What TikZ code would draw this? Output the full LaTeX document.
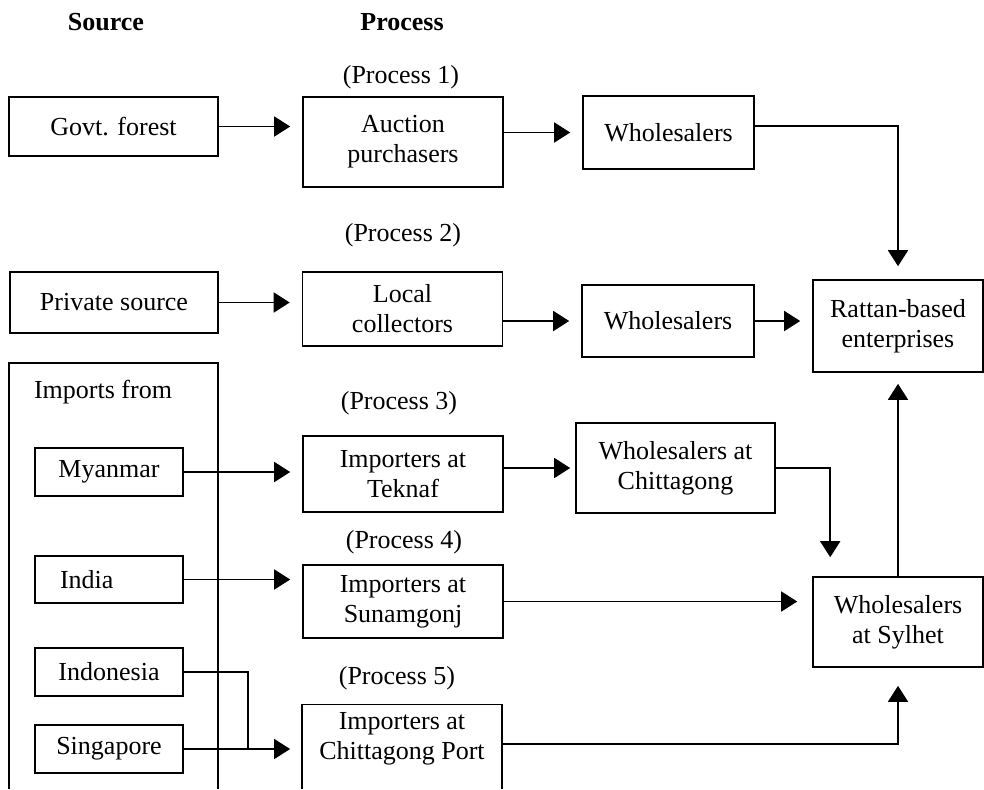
\documentclass[tikz,border=0pt]{standalone}
\usepackage{fontspec}
\setmainfont{Liberation Serif}
\usetikzlibrary{arrows.meta}
\begin{document}
\begin{tikzpicture}[x=.5pt,y=-.5pt,
	every node/.style={font=\fontsize{13}{15}\selectfont},
	box/.style={draw,line width=.8pt,align=center,inner sep=2pt},
	arr/.style={line width=.8pt,-{Triangle[length=8pt,width=10pt]},shorten >=6pt}]
				\useasboundingbox (0,0) rectangle (984,789);
				\node[font=\fontsize{13}{15}\selectfont\bfseries] (src) at (106,22) {Source};
				\node[font=\fontsize{13}{15}\selectfont\bfseries] (prc) at (402,22) {Process};
				\node (p1) at (401,77) {(Process 1)};
				\node (p2) at (403,235) {(Process 2)};
				\node (p3) at (399,403) {(Process 3)};
				\node (p4) at (404,542) {(Process 4)};
				\node (p5) at (397,678) {(Process 5)};
				\node[box,minimum width=104.5pt,minimum height=29.5pt] (govt) at (113.5,126.5) {Govt. forest};
				\node[box,minimum width=100pt,minimum height=45pt] (auction) at (403,142) {Auction\\purchasers};
				\node[box,minimum width=85.5pt,minimum height=36.5pt] (whole1) at (668.5,132.5) {Wholesalers};
				\node[box,minimum width=104pt,minimum height=30.5pt] (private) at (114,302.5) {Private source};
				\node[box,minimum width=100pt,minimum height=37pt] (local) at (402.5,309) {Local\\collectors};
				\node[box,minimum width=86pt,minimum height=36pt] (whole2) at (668,321) {Wholesalers};
				\node[box,minimum width=85pt,minimum height=46pt] (rattan) at (898,326) {Rattan-based\\enterprises};
				\draw[line width=.8pt] (9,789) -- (9,363) -- (218,363) -- (218,789);
				\node[anchor=west] (imp) at (27,392) {Imports from};
				\node[box,minimum width=74pt,minimum height=24pt] (myanmar) at (109,472) {Myanmar};
				\node[box,minimum width=74pt,minimum height=23.5pt,text width=49pt,align=left] (india) at (109,579.5) {India};
				\node[box,minimum width=74pt,minimum height=24pt] (indonesia) at (109,672) {Indonesia};
				\node[box,minimum width=74pt,minimum height=24pt] (singapore) at (109,749) {Singapore};
				\node[box,minimum width=100pt,minimum height=38pt] (teknaf) at (403,474) {Importers at\\Teknaf};
				\node[box,minimum width=100pt,minimum height=36.5pt] (sunamgonj) at (403,601.5) {Importers at\\Sunamgonj};
				\node[align=center,inner sep=2pt,minimum width=99.5pt,minimum height=34pt] (port) at (402,739) {Importers at\\Chittagong Port};
				\draw[line width=.8pt] ([yshift=-8pt]port.south west) -- (port.north west) -- (port.north east) -- ([yshift=-8pt]port.south east);
				\node[box,minimum width=99.5pt,minimum height=45pt] (whchitt) at (675.5,468) {Wholesalers at\\Chittagong};
				\node[box,minimum width=85pt,minimum height=45pt] (sylhet) at (898,622) {Wholesalers\\at Sylhet};
				\coordinate (jn) at (248,749);
				\draw[arr] (govt) -- (govt -| auction.west);
				\draw[arr] (whole1 -| auction.east) -- (whole1.west);
				\draw[arr,shorten >=6.5pt] ([yshift=3.25pt]whole1.east) -| (rattan.north);
				\draw[arr] (private) -- (private -| local.west);
				\draw[arr] (whole2 -| local.east) -- (whole2.west);
				\draw[arr] (whole2) -- (whole2 -| rattan.west);
				\draw[arr] (myanmar) -- (myanmar -| teknaf.west);
				\draw[arr] (india) -- (india -| sunamgonj.west);
				\draw[line width=.8pt] (indonesia) -| (jn);
				\draw[arr] (singapore) -- (singapore -| port.west);
				\draw[arr,shorten >=2.5pt] (whchitt -| teknaf.east) -- (whchitt.west);
				\draw[arr,shorten >=9.5pt] (whchitt.east) -| ([xshift=9pt]sylhet.north west);
				\draw[arr,shorten >=7.5pt] (sunamgonj) -- (sunamgonj -| sylhet.west);
				\draw[arr,shorten >=5.5pt] (sylhet.north) -- (rattan.south);
				\draw[arr,shorten >=9pt] ([yshift=-2.5pt]port.east) -| (sylhet.south);
	\end{tikzpicture}
\end{document}
